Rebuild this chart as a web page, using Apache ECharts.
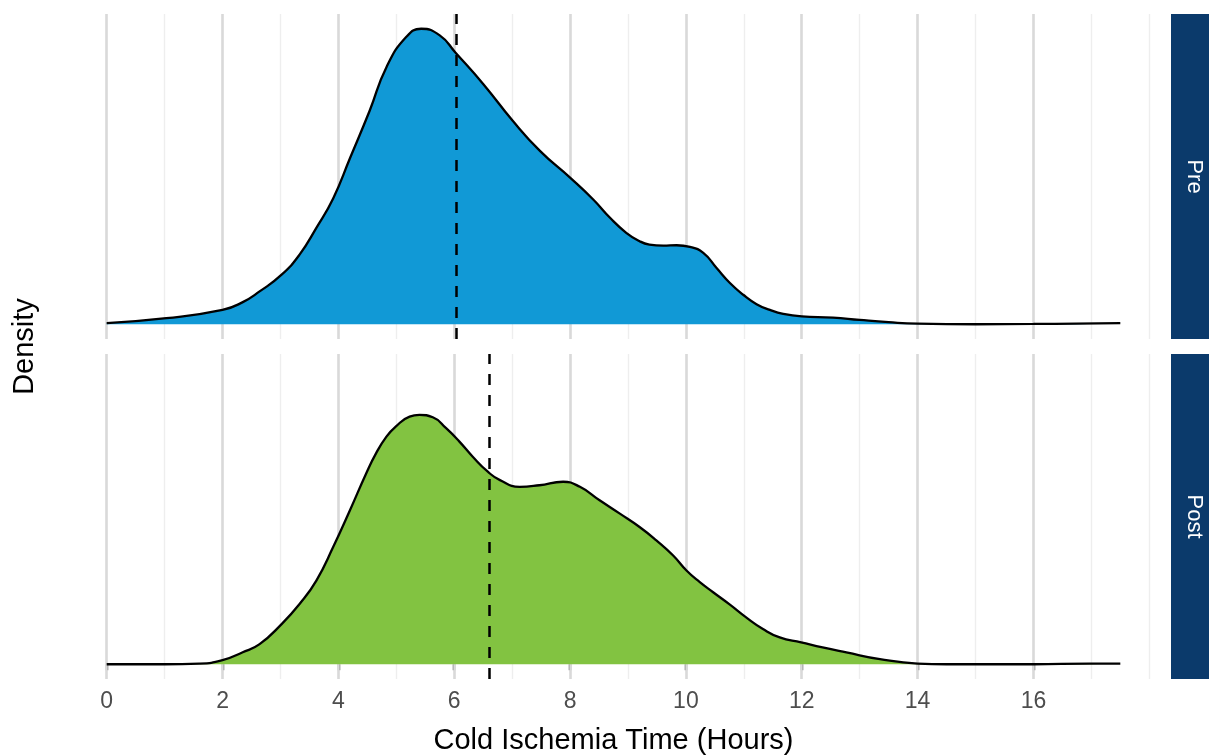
<!DOCTYPE html>
<html>
<head>
<meta charset="utf-8">
<script src="https://cdn.jsdelivr.net/npm/echarts@6/dist/echarts.min.js"></script>
<style>
html,body{margin:0;padding:0;background:#fff;}
#chart{width:1209px;height:755px;}
</style>
</head>
<body>
<div id="chart"></div>
<script>
// ---- data ----
const panels = ['Pre', 'Post'];
const xTicks = [0, 2, 4, 6, 8, 10, 12, 14, 16];
const xMinor = [1, 3, 5, 7, 9, 11, 13, 15, 17, 18];
const preX = [0, 1.03, 2.0, 2.35, 2.64, 3.02, 3.33, 3.62, 3.91, 4.2, 4.54, 4.83, 5.17, 5.43, 5.75, 6.02, 6.5, 7.01, 7.48, 8.0, 8.4, 8.69, 8.97, 9.2, 9.37, 9.61, 9.84, 10.07, 10.3, 10.53, 10.76, 10.99, 11.22, 11.45, 11.68, 12.0, 12.54, 13.0, 13.5, 14.0, 15.0, 16.0, 16.74, 17.5];
const preY = [0.0008, 0.0045, 0.0107, 0.0165, 0.0245, 0.037, 0.052, 0.072, 0.094, 0.124, 0.1595, 0.192, 0.2145, 0.2207, 0.2158, 0.203, 0.1795, 0.152, 0.1295, 0.1095, 0.0932, 0.0795, 0.0683, 0.062, 0.0595, 0.0587, 0.059, 0.0578, 0.0533, 0.042, 0.0308, 0.022, 0.015, 0.0107, 0.0077, 0.0058, 0.005, 0.0032, 0.0015, 0.0004, 0, 0.0002, 0.0005, 0.0008];
const postX = [0, 1.0, 1.6, 2.0, 2.34, 2.64, 3.02, 3.33, 3.62, 3.91, 4.2, 4.48, 4.65, 4.83, 4.99, 5.23, 5.4, 5.63, 5.86, 6.09, 6.32, 6.58, 6.79, 7.13, 7.47, 7.88, 8.17, 8.51, 8.86, 9.2, 9.49, 9.78, 10.01, 10.24, 10.47, 10.76, 11.04, 11.33, 11.62, 11.99, 12.36, 12.77, 13.35, 14.0, 14.5, 16.0, 16.97, 17.5];
const postY = [0, 0, 0.0005, 0.003, 0.0088, 0.015, 0.03, 0.045, 0.0625, 0.0875, 0.115, 0.1425, 0.1575, 0.17, 0.1775, 0.185, 0.1862, 0.1845, 0.1763, 0.1663, 0.155, 0.1438, 0.1375, 0.1325, 0.1337, 0.1363, 0.1325, 0.1225, 0.1125, 0.1025, 0.0925, 0.0812, 0.07, 0.0613, 0.0538, 0.0445, 0.035, 0.0263, 0.02, 0.0163, 0.0125, 0.0088, 0.0038, 0.0005, 0, 0, 0.0005, 0.0005];
const means = [6.03, 6.6];
const fills = ['#1199D6', '#82C341'];
const xTitle = 'Cold Ischemia Time (Hours)';
const yTitle = 'Density';

// ---- layout ----
const FONT = "'Liberation Sans', Arial, Helvetica, sans-serif";
const xMin = -0.875, xMax = 18.375;
const gridLeft = 56, gridRight = 38, panelH = 325;
const tops = [14, 354];
const stripColor = '#0B3A6B';

const ymax = Math.max(...preY, ...postY);
const seriesData = [preX.map((x, i) => [x, preY[i]]), postX.map((x, i) => [x, postY[i]])];

const grids = [], xAxes = [], yAxes = [], series = [], graphics = [];
panels.forEach((name, i) => {
  grids.push({left: gridLeft, right: gridRight, top: tops[i], height: panelH});
  const isBottom = i === panels.length - 1;
  xAxes.push({
    type: 'value', gridIndex: i, min: xMin, max: xMax,
    axisLine: {show: false},
    splitLine: {show: false},
    axisTick: {show: isBottom, customValues: xTicks, length: 6, lineStyle: {color: '#333333', width: 2.4}},
    axisLabel: {show: isBottom, customValues: xTicks, margin: 11, color: '#4D4D4D', fontSize: 23, fontFamily: FONT}
  });
  yAxes.push({
    type: 'value', gridIndex: i, min: -0.05 * ymax, max: 1.05 * ymax,
    show: false, splitLine: {show: false}
  });
  // grid lines (helper series, drawn beneath the density)
  series.push({
    type: 'line', xAxisIndex: i, yAxisIndex: i, data: [[0, 0]], symbol: 'none',
    lineStyle: {opacity: 0}, silent: true, z: 1,
    markLine: {
      silent: true, z: 1, symbol: ['none', 'none'], label: {show: false}, animation: false,
      data: xMinor.map(v => ({xAxis: v, lineStyle: {color: '#EEEEEE', width: 1.4, type: 'solid'}}))
        .concat(xTicks.map(v => ({xAxis: v, lineStyle: {color: '#D9D9D9', width: 2.6, type: 'solid'}})))
    }
  });
  series.push({
    type: 'line', name: name, xAxisIndex: i, yAxisIndex: i, data: seriesData[i],
    smooth: 0.5, symbol: 'none', z: 3,
    lineStyle: {color: '#000000', width: 2.3},
    areaStyle: {color: fills[i], opacity: 1},
    markLine: {
      silent: true, z: 6, symbol: ['none', 'none'], label: {show: false}, animation: false,
      lineStyle: {color: '#000000', width: 2.5, type: [11, 10]},
      data: [{xAxis: means[i]}]
    }
  });
  // facet strip
  graphics.push({
    type: 'rect', shape: {x: 1171, y: tops[i], width: 50, height: panelH},
    style: {fill: stripColor}, silent: true
  });
  graphics.push({
    type: 'text', x: 1194, y: tops[i] + panelH / 2, rotation: -Math.PI / 2,
    style: {text: name, fill: '#FFFFFF', font: '22px ' + FONT, textAlign: 'center', textVerticalAlign: 'middle'}
  });
});

graphics.push({
  type: 'text', x: gridLeft + (1209 - gridLeft - gridRight) / 2, y: 741,
  style: {text: xTitle, fill: '#000000', font: '29px ' + FONT, textAlign: 'center', textVerticalAlign: 'middle'}
});
graphics.push({
  type: 'text', x: 25, y: (tops[0] + tops[1] + panelH) / 2, rotation: Math.PI / 2,
  style: {text: yTitle, fill: '#000000', font: '29px ' + FONT, textAlign: 'center', textVerticalAlign: 'middle'}
});

const chart = echarts.init(document.getElementById('chart'), null, {renderer: 'canvas'});
chart.setOption({
  animation: false,
  backgroundColor: '#FFFFFF',
  grid: grids, xAxis: xAxes, yAxis: yAxes, series: series, graphic: graphics
});
</script>
</body>
</html>
